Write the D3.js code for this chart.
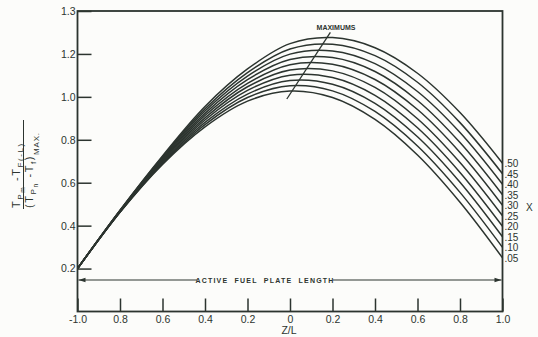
<!DOCTYPE html>
<html><head><meta charset="utf-8">
<script src="https://cdn.jsdelivr.net/npm/d3@7"></script>
<style>
html,body{margin:0;padding:0;background:#fcfcfa;}
svg{display:block;font-family:"Liberation Sans","DejaVu Sans",sans-serif;}
</style></head>
<body><svg id="c" width="538" height="337"></svg>
<script>
// ---- data ----
const zValues = [-1.0, -0.8, -0.6, -0.4, -0.2, 0.0, 0.2, 0.4, 0.6, 0.8, 1.0];
const curve05 = [0.20, 0.462, 0.685, 0.860, 0.980, 1.027, 0.997, 0.895, 0.729, 0.509, 0.250];
const curve10 = [0.20, 0.463, 0.689, 0.871, 0.997, 1.052, 1.028, 0.932, 0.771, 0.555, 0.299];
const curve15 = [0.20, 0.464, 0.694, 0.881, 1.013, 1.076, 1.059, 0.970, 0.814, 0.602, 0.348];
const curve20 = [0.20, 0.465, 0.698, 0.892, 1.030, 1.101, 1.090, 1.007, 0.856, 0.648, 0.397];
const curve25 = [0.20, 0.466, 0.703, 0.902, 1.047, 1.125, 1.121, 1.044, 0.898, 0.694, 0.446];
const curve30 = [0.20, 0.468, 0.707, 0.913, 1.063, 1.150, 1.152, 1.081, 0.941, 0.741, 0.495];
const curve35 = [0.20, 0.469, 0.712, 0.923, 1.080, 1.174, 1.183, 1.118, 0.983, 0.787, 0.544];
const curve40 = [0.20, 0.470, 0.716, 0.934, 1.097, 1.199, 1.214, 1.155, 1.025, 0.834, 0.593];
const curve45 = [0.20, 0.471, 0.721, 0.944, 1.113, 1.223, 1.245, 1.192, 1.068, 0.880, 0.642];
const curve50 = [0.20, 0.472, 0.725, 0.955, 1.130, 1.248, 1.276, 1.229, 1.110, 0.927, 0.691];
const seriesLabels = [".05", ".10", ".15", ".20", ".25", ".30", ".35", ".40", ".45", ".50"];
const seriesValues = [curve05, curve10, curve15, curve20, curve25, curve30, curve35, curve40, curve45, curve50];
const maximumsLine = [[-0.015, 0.99], [0.19, 1.30]];
const xTickValues = [-1.0, -0.8, -0.6, -0.4, -0.2, 0, 0.2, 0.4, 0.6, 0.8, 1.0];
const xTickLabels = ["-1.0", "0.8", "0.6", "0.4", "0.2", "0", "0.2", "0.4", "0.6", "0.8", "1.0"];
const yTickValues = [0.2, 0.4, 0.6, 0.8, 1.0, 1.2, 1.4];
const yTickLabels = ["0.2", "0.4", "0.6", "0.8", "1.0", "1.2", "1.3"];

// ---- drawing ----
const ink = "#2c342f";
const svg = d3.select("#c");
const x = d3.scaleLinear().domain([-1, 1]).range([77.5, 502.5]);
const y = d3.scaleLinear().domain([0, 1.4]).range([311.5, 11]);

// frame
svg.append("rect").attr("x", x(-1)).attr("y", y(1.4))
  .attr("width", x(1) - x(-1)).attr("height", y(0) - y(1.4))
  .attr("fill", "none").attr("stroke", ink).attr("stroke-width", 1.8);

// axes
const yAx = svg.append("g").attr("transform", `translate(${x(-1)},0)`)
  .call(d3.axisLeft(y).tickValues(yTickValues).tickSize(-14).tickPadding(2)
    .tickFormat((d, i) => yTickLabels[i]));
const xAx = svg.append("g").attr("transform", `translate(0,${y(0)})`)
  .call(d3.axisBottom(x).tickValues(xTickValues).tickSize(-13).tickPadding(4)
    .tickFormat((d, i) => xTickLabels[i]));
[yAx, xAx].forEach(g => {
  g.select(".domain").remove();
  g.selectAll("line").attr("stroke", ink).attr("stroke-width", 1.5);
  g.selectAll("text").attr("fill", ink).style("font-size", "10.5px");
});

// curves
const line = d3.line().x(d => x(d[0])).y(d => y(d[1])).curve(d3.curveCatmullRom.alpha(0.5));
seriesValues.forEach((vals, i) => {
  const pts = zValues.map((z, k) => [z, vals[k]]);
  svg.append("path").attr("d", line(pts)).attr("fill", "none")
    .attr("stroke", ink).attr("stroke-width", 1.5);
  svg.append("text").attr("x", x(1) + 2).attr("y", y(vals[vals.length - 1]) + 4)
    .attr("fill", ink).style("font-size", "10px").text(seriesLabels[i]);
});
svg.append("text").attr("x", 526).attr("y", 211).attr("fill", ink)
  .style("font-size", "10px").text("X");

// maximums line + label
svg.append("line").attr("x1", x(maximumsLine[0][0])).attr("y1", y(maximumsLine[0][1]))
  .attr("x2", x(maximumsLine[1][0])).attr("y2", y(maximumsLine[1][1]))
  .attr("stroke", ink).attr("stroke-width", 1.3);
svg.append("text").attr("x", 336).attr("y", 30).attr("text-anchor", "middle")
  .attr("fill", ink).style("font-size", "7px").style("font-weight", "bold").text("MAXIMUMS");

// active fuel plate length arrow
const ay = 280;
svg.append("line").attr("x1", x(-1) + 1).attr("x2", 197).attr("y1", ay).attr("y2", ay)
  .attr("stroke", ink).attr("stroke-width", 1);
svg.append("line").attr("x1", 333).attr("x2", x(1) - 1).attr("y1", ay).attr("y2", ay)
  .attr("stroke", ink).attr("stroke-width", 1);
svg.append("path").attr("d", `M${x(-1)+1},${ay} l7,-2.2 l0,4.4 Z`).attr("fill", ink);
svg.append("path").attr("d", `M${x(1)-1},${ay} l-7,-2.2 l0,4.4 Z`).attr("fill", ink);
svg.append("text").attr("x", 265).attr("y", ay + 2.5).attr("text-anchor", "middle")
  .attr("fill", ink).style("font-size", "7px").style("font-weight", "bold")
  .style("letter-spacing", "1.2px").attr("xml:space", "preserve")
  .text("ACTIVE  FUEL  PLATE  LENGTH");

// x title
svg.append("text").attr("x", 289).attr("y", 334).attr("text-anchor", "middle")
  .attr("fill", ink).style("font-size", "10.5px").text("Z/L");

// y title (rotated fraction)
const yl = svg.append("g").attr("transform", "translate(0,208) rotate(-90)");
const num = yl.append("text").attr("x", 0).attr("y", 20).attr("fill", ink)
  .style("font-size", "11px").style("letter-spacing", "1.6px").attr("xml:space", "preserve");
num.append("tspan").text("T");
num.append("tspan").attr("dy", 3).style("font-size", "8px").text("P");
num.append("tspan").attr("dy", 2).style("font-size", "6.5px").text("m");
num.append("tspan").attr("dy", -5).text(" -T");
num.append("tspan").attr("dy", 3).style("font-size", "8px").text("F(-L)");
yl.append("line").attr("x1", -1).attr("x2", 88).attr("y1", 23.5).attr("y2", 23.5)
  .attr("stroke", ink).attr("stroke-width", 1);
const den = yl.append("text").attr("x", 0).attr("y", 32.5).attr("fill", ink)
  .style("font-size", "11px").style("letter-spacing", "1.6px").attr("xml:space", "preserve");
den.append("tspan").text("(T");
den.append("tspan").attr("dy", 3).style("font-size", "8px").text("P");
den.append("tspan").attr("dy", 2).style("font-size", "6.5px").text("n");
den.append("tspan").attr("dy", -5).text(" -T");
den.append("tspan").attr("dy", 3).style("font-size", "8px").text("f");
den.append("tspan").attr("dy", -3).text(")");
den.append("tspan").attr("dy", 6).style("font-size", "8px").style("letter-spacing", "0.8px").text("MAX.");
</script></body></html>
